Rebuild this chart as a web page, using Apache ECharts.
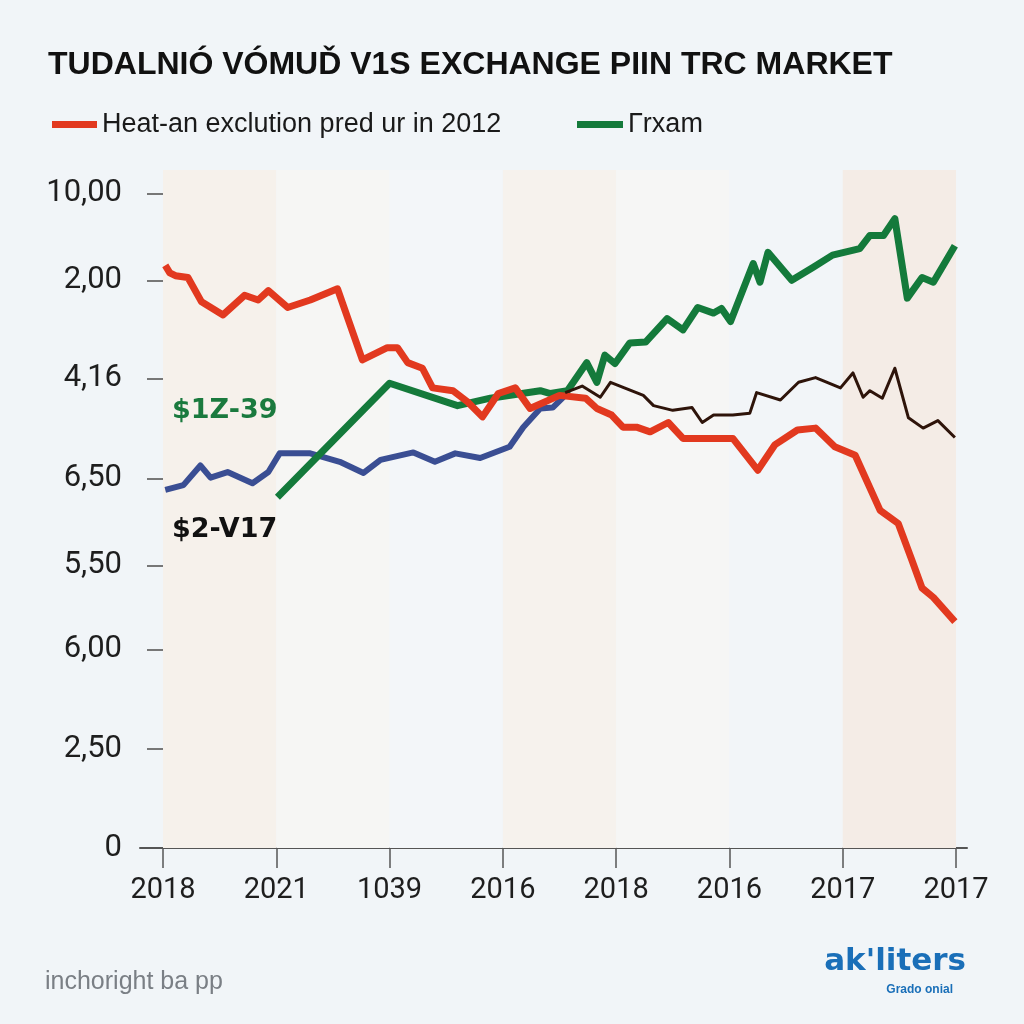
<!DOCTYPE html>
<html>
<head>
<meta charset="utf-8">
<script src="https://cdn.jsdelivr.net/npm/echarts@6/dist/echarts.min.js"></script>
<style>
html,body{margin:0;padding:0;background:#f1f5f8;}
#chart{width:1024px;height:1024px;}
</style>
</head>
<body>
<div id="chart"></div>
<script>
// ---- data ----
const titleText = 'TUDALNIÓ VÓMUĎ V1S EXCHANGE PIIN TRC MARKET';
const legendRed = 'Heat-an exclution pred ur in 2012';
const legendGreen = 'Γrxam';
const xTickVals = [0, 1, 2, 3, 4, 5, 6, 7];
const xLabels = ['2018', '2021', '1039', '2016', '2018', '2016', '2017', '2017'];
const yTickVals = [0, 1.06, 2.12, 3.02, 3.95, 5.02, 6.07, 7.0];
const yLabels = ['0', '2,50', '6,00', '5,50', '6,50', '4,16', '2,00', '10,00'];
const annoGreen = '$1Z-39';
const annoBlack = '$2-V17';
const footerText = 'inchoright ba pp';
const logoText = "ak'liters";
const logoSub = 'Grado onial';

const redX = [0.02,0.06,0.11,0.22,0.34,0.53,0.72,0.84,0.93,1.10,1.30,1.54,1.76,1.98,2.07,2.16,2.29,2.38,2.56,2.69,2.82,2.96,3.11,3.24,3.50,3.73,3.83,3.96,4.06,4.18,4.30,4.46,4.59,5.03,5.25,5.40,5.60,5.76,5.93,6.11,6.33,6.49,6.61,6.70,6.80,6.99];
const redY = [6.23,6.15,6.12,6.10,5.84,5.70,5.91,5.86,5.96,5.78,5.86,5.98,5.22,5.35,5.35,5.19,5.13,4.92,4.89,4.77,4.61,4.86,4.92,4.70,4.84,4.81,4.70,4.63,4.50,4.50,4.45,4.55,4.38,4.38,4.04,4.31,4.47,4.49,4.29,4.20,3.61,3.47,3.08,2.78,2.68,2.42];

const greenX = [1.01,2.00,2.60,2.89,3.33,3.42,3.57,3.74,3.83,3.90,3.99,4.12,4.26,4.45,4.59,4.72,4.86,4.93,5.01,5.21,5.27,5.34,5.55,5.74,5.91,6.15,6.24,6.36,6.46,6.57,6.70,6.80,6.99];
const greenY = [3.75,4.97,4.73,4.81,4.89,4.86,4.89,5.19,4.98,5.27,5.18,5.40,5.41,5.66,5.54,5.78,5.72,5.77,5.63,6.25,6.05,6.37,6.07,6.21,6.34,6.41,6.55,6.55,6.73,5.88,6.10,6.05,6.44];

const blueX = [0.02,0.18,0.33,0.42,0.57,0.79,0.93,1.03,1.30,1.56,1.77,1.92,2.21,2.40,2.58,2.80,3.06,3.18,3.33,3.44,3.55];
const blueY = [3.83,3.88,4.09,3.96,4.02,3.90,4.02,4.22,4.22,4.13,4.01,4.15,4.23,4.13,4.22,4.17,4.29,4.50,4.70,4.71,4.84];

const brownX = [3.55,3.70,3.86,3.95,4.24,4.33,4.50,4.67,4.76,4.86,5.03,5.18,5.24,5.45,5.61,5.76,5.98,6.09,6.18,6.24,6.35,6.46,6.58,6.71,6.84,6.99];
const brownY = [4.87,4.94,4.82,4.98,4.84,4.73,4.68,4.71,4.55,4.63,4.63,4.65,4.87,4.79,4.98,5.03,4.92,5.08,4.82,4.89,4.81,5.13,4.60,4.49,4.57,4.39];

const bandStarts = [0, 1, 2, 3, 4, 5, 6];

// ---- build ----
const zip = (xs, ys) => xs.map((x, i) => [x, ys[i]]);
const bandColors = ['#f6f1eb', '#f6f6f4', '#f3f6f9', '#f6f2ed', '#f6f6f5', '#f2f5f8', '#f4ece6'];
const bands = bandStarts.map((s, i) => [
  { xAxis: s, itemStyle: { color: bandColors[i] } },
  { xAxis: s + 1 }
]);

const chart = echarts.init(document.getElementById('chart'));
chart.setOption({
  backgroundColor: '#f1f5f8',
  animation: false,
  title: {
    text: titleText,
    left: 43, top: 44,
    textStyle: { fontFamily: 'Liberation Sans', fontWeight: 'bold', fontSize: 32, color: '#111' }
  },
  legend: [
    {
      data: [legendRed], left: 47, top: 106,
      icon: 'rect', itemWidth: 45, itemHeight: 7, itemGap: 0,
      textStyle: { fontFamily: 'Liberation Sans', fontSize: 27, color: '#1a1a1a' }
    },
    {
      data: [legendGreen], left: 572, top: 106,
      icon: 'rect', itemWidth: 46, itemHeight: 7, itemGap: 0,
      textStyle: { fontFamily: 'Liberation Sans', fontSize: 27, color: '#1a1a1a' }
    }
  ],
  grid: { left: 140, right: 57, top: 170, bottom: 176, containLabel: false },
  xAxis: {
    type: 'value', min: -0.203, max: 7.097,
    splitLine: { show: false },
    axisLine: { show: true, lineStyle: { color: '#555', width: 2 } },
    axisTick: { show: true, customValues: xTickVals, length: 20, lineStyle: { color: '#555', width: 1.5 } },
    axisLabel: {
      customValues: xTickVals, margin: 28,
      fontFamily: 'Roboto', fontSize: 29, color: '#1e1e1e',
      formatter: v => xLabels[xTickVals.indexOf(Math.round(v))] || ''
    }
  },
  yAxis: {
    type: 'value', min: 0, max: 7.25, offset: -27,
    splitLine: { show: false },
    axisLine: { show: true, lineStyle: { color: 'rgba(0,0,0,0)', width: 0 } },
    axisTick: { show: true, inside: false, customValues: yTickVals.slice(1), length: 20, lineStyle: { color: '#777', width: 2 } },
    axisLabel: {
      customValues: yTickVals, margin: 45,
      fontFamily: 'Roboto', fontSize: 31, color: '#1e1e1e',
      formatter: v => {
        let best = 0, d = 1e9;
        yTickVals.forEach((t, i) => { if (Math.abs(t - v) < d) { d = Math.abs(t - v); best = i; } });
        return yLabels[best];
      }
    }
  },
  series: [
    {
      name: 'blue', type: 'line', data: zip(blueX, blueY), symbol: 'none',
      lineStyle: { color: '#3a4e93', width: 6, join: 'round' }, z: 2,
      markArea: { silent: true, data: bands }
    },
    {
      name: legendGreen, type: 'line', data: zip(greenX, greenY), symbol: 'none',
      itemStyle: { color: '#147a3b' },
      lineStyle: { color: '#147a3b', width: 7, join: 'round' }, z: 3
    },
    {
      name: legendRed, type: 'line', data: zip(redX, redY), symbol: 'none',
      itemStyle: { color: '#e2391f' },
      lineStyle: { color: '#e2391f', width: 7, join: 'round' }, z: 4
    },
    {
      name: 'brown', type: 'line', data: zip(brownX, brownY), symbol: 'none',
      lineStyle: { color: '#2e140a', width: 3, join: 'round' }, z: 5
    }
  ],
  graphic: [
    { type: 'text', left: 172, top: 397, z: 10,
      style: { text: annoGreen, font: 'bold 27px "DejaVu Sans"', fill: '#1a7a3e' } },
    { type: 'text', left: 172, top: 516, z: 10,
      style: { text: annoBlack, font: 'bold 27px "DejaVu Sans"', fill: '#111' } },
    { type: 'text', left: 45, top: 970, z: 10,
      style: { text: footerText, font: '25px "Liberation Sans"', fill: '#7a7f85' } },
    { type: 'text', right: 58, top: 946, z: 10,
      style: { text: logoText, font: 'bold 31px "DejaVu Sans"', fill: '#1a6fb8' } },
    { type: 'text', right: 71, top: 984, z: 10,
      style: { text: logoSub, font: 'bold 12px "Liberation Sans"', fill: '#1a6fb8' } }
  ]
});
</script>
</body>
</html>
